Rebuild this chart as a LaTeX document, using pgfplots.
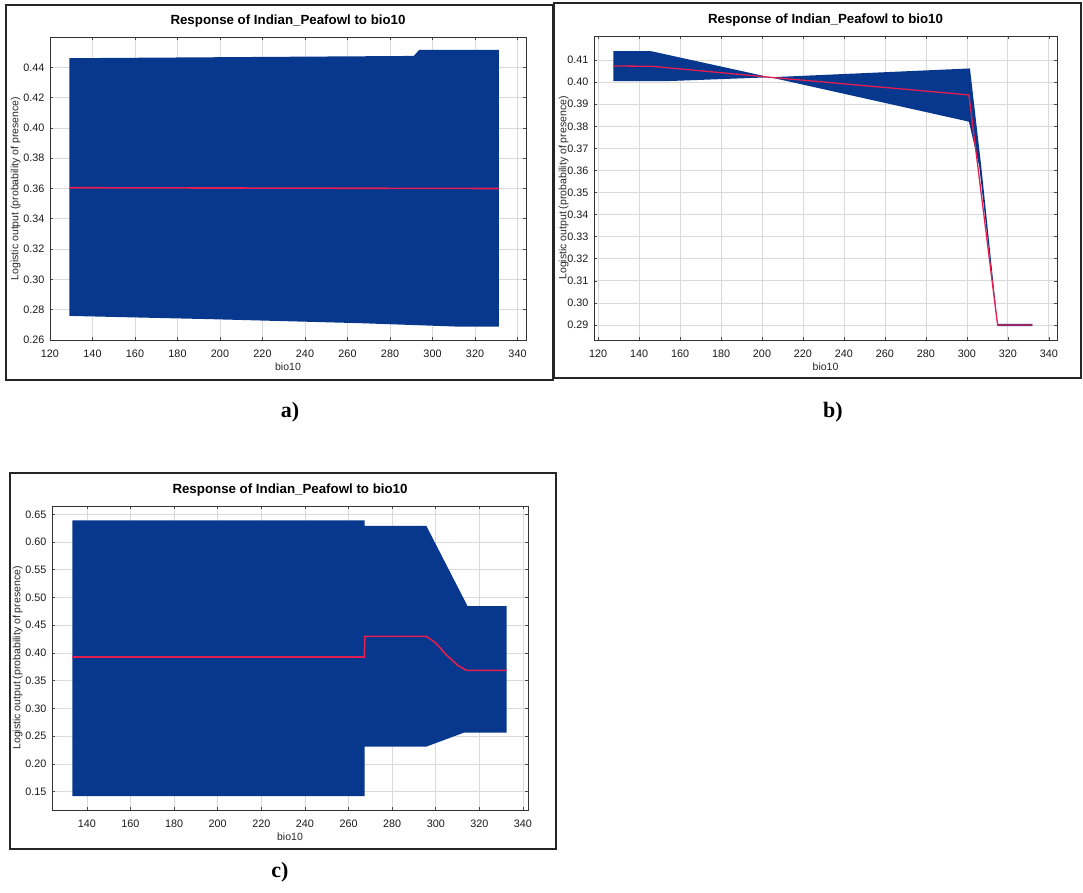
\documentclass[border=0pt]{standalone}
\usepackage{fontspec}
\setmainfont{Liberation Sans}
\newfontfamily\labelfont{Liberation Serif}
\usepackage{pgfplots}
\pgfplotsset{compat=1.18}
\definecolor{bandblue}{RGB}{8,55,142}
\definecolor{meanred}{RGB}{228,30,80}
\definecolor{gridgray}{RGB}{218,218,218}
\pgfplotsset{
  peafowl/.style={
    scale only axis,
    anchor=south west,
    axis line style={draw=black!80, line width=0.8pt},
    tick align=inside,
    major tick length=3pt,
    tick style={black!70, line width=0.6pt},
    grid=major,
    grid style={gridgray, line width=0.7pt},
    title={Response of Indian\_Peafowl to bio10},
    title style={font=\fontsize{13.3}{15}\selectfont\bfseries},
    xlabel={bio10},
    ylabel={Logistic output (probability of presence)},
    label style={font=\fontsize{10.5}{12}\selectfont, text=black!85},
    tick label style={font=\fontsize{10.8}{12}\selectfont, text=black!90},
    /pgf/number format/assume math mode=true,
    every x tick label/.append style={yshift=-6pt},
    every y tick label/.append style={xshift=-2pt},
    yticklabel style={/pgf/number format/.cd, fixed, fixed zerofill, precision=2},
    xlabel style={yshift=1pt},
  }
}
\begin{document}
\begin{tikzpicture}
\path (0pt,0pt) rectangle (1083pt,892pt);
% outer frames
\draw[line width=1.4pt, black!85] (6pt,512pt) rectangle (553pt,887pt);
\draw[line width=1.4pt, black!85] (554pt,514pt) rectangle (1081pt,889pt);
\draw[line width=1.4pt, black!85] (10pt,43pt) rectangle (556pt,419pt);
% panel labels
\node[font=\labelfont\bfseries\fontsize{22}{24}\selectfont] at (290pt,480pt) {a)};
\node[font=\labelfont\bfseries\fontsize{22}{24}\selectfont] at (833pt,480pt) {b)};
\node[font=\labelfont\bfseries\fontsize{22}{24}\selectfont] at (280pt,20pt) {c)};

% ---------------- panel a
\begin{axis}[peafowl,
  at={(50pt,552pt)}, width=476pt, height=303pt,
  xmin=120, xmax=344, ymin=0.26, ymax=0.46,
  xtick={120,140,...,340},
  ytick={0.26,0.28,0.30,0.32,0.34,0.36,0.38,0.40,0.42,0.44},
  ylabel shift=-4pt,
]
\addplot[draw=none, fill=bandblue] coordinates {
 (129.1,0.2759) (129.1,0.4460) (291.2,0.4475) (293.7,0.4515) (331.2,0.4515)
 (331.2,0.2688) (312.7,0.2688) (266,0.2711) (197,0.2737) (129.1,0.2759)};
\addplot[meanred, line width=1.6pt] coordinates {(129.1,0.3605) (331.2,0.3600)};
\end{axis}

% ---------------- panel b
\begin{axis}[peafowl,
  at={(594pt,552pt)}, width=463pt, height=304pt,
  xmin=118, xmax=344, ymin=0.2832, ymax=0.4209,
  xtick={120,140,...,340},
  ytick={0.29,0.30,0.31,0.32,0.33,0.34,0.35,0.36,0.37,0.38,0.39,0.40,0.41},
  ylabel shift=-8pt,
]
\addplot[draw=none, fill=bandblue] coordinates {
 (127.4,0.4005) (127.4,0.4141) (145.5,0.4141) (203.9,0.4022) (301.5,0.4062)
 (307,0.362) (315,0.2905) (332,0.2905) (332,0.2895) (315,0.2895)
 (306,0.362) (301,0.3821) (203.9,0.4022) (155,0.4005) (127.4,0.4005)};
\addplot[meanred, line width=1.3pt] coordinates {
 (127.4,0.4073) (146,0.4072) (204,0.4022) (301,0.3942) (315,0.29) (332,0.29)};
\end{axis}

% ---------------- panel c
\begin{axis}[peafowl,
  at={(52pt,82pt)}, width=476pt, height=304pt,
  xmin=124, xmax=342.3, ymin=0.117, ymax=0.665,
  xtick={140,160,...,340},
  ytick={0.15,0.20,0.25,0.30,0.35,0.40,0.45,0.50,0.55,0.60,0.65},
  ylabel shift=-4pt,
]
\addplot[draw=none, fill=bandblue] coordinates {
 (133.4,0.142) (133.4,0.639) (267.4,0.639) (267.4,0.629) (295.7,0.629)
 (314.6,0.4843) (332.5,0.4843) (332.5,0.2566) (313,0.2566) (295.7,0.2313)
 (267.4,0.2313) (267.4,0.142) (133.4,0.142)};
\addplot[meanred, line width=1.6pt] coordinates {
 (133.4,0.3928) (267.2,0.3928) (267.5,0.4301) (295.7,0.4301) (300,0.418)
 (305,0.396) (310,0.378) (314,0.3687) (332.5,0.3687)};
\end{axis}
\end{tikzpicture}
\end{document}
